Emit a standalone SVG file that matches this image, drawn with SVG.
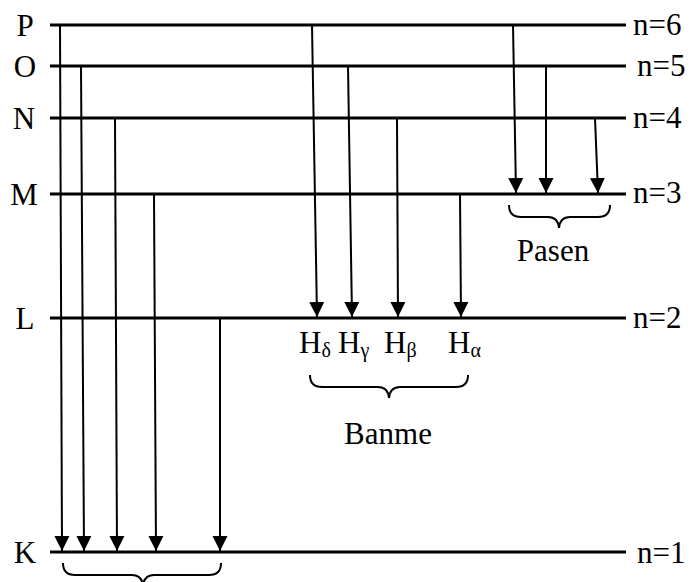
<svg xmlns="http://www.w3.org/2000/svg" width="696" height="582" viewBox="0 0 696 582">
<style>
text{fill:#000}
.lbl{font-size:31px}
.lvl{stroke:#000;stroke-width:3;fill:none}
.tr{stroke:#000;stroke-width:2;fill:none;marker-end:url(#ah)}
.br{stroke:#000;stroke-width:2;fill:none}
.sub{font-size:20px}
</style>
<defs>
<marker id="ah" markerUnits="userSpaceOnUse" markerWidth="16" markerHeight="16" viewBox="0 -8 16 16" refX="15" refY="0" orient="auto">
<path d="M0,-7.5 L15,0 L0,7.5 z" fill="#000"/>
</marker>
</defs>
<g font-family="'Liberation Serif', 'Times New Roman', 'DejaVu Serif', serif">
<g id="levels">
<g id="lvl6"><line class="lvl" x1="50" y1="25" x2="626" y2="25"/><text class="lbl" x="25" y="36" text-anchor="middle">P</text><text class="lbl" x="633" y="35">n=6</text></g>
<g id="lvl5"><line class="lvl" x1="50" y1="66" x2="626" y2="66"/><text class="lbl" x="25" y="77" text-anchor="middle">O</text><text class="lbl" x="637" y="76">n=5</text></g>
<g id="lvl4"><line class="lvl" x1="50" y1="118" x2="626" y2="118"/><text class="lbl" x="24" y="129" text-anchor="middle">N</text><text class="lbl" x="633" y="128">n=4</text></g>
<g id="lvl3"><line class="lvl" x1="50" y1="194" x2="626" y2="194"/><text class="lbl" x="24" y="205" text-anchor="middle">M</text><text class="lbl" x="633" y="203">n=3</text></g>
<g id="lvl2"><line class="lvl" x1="50" y1="318" x2="626" y2="318"/><text class="lbl" x="25" y="329" text-anchor="middle">L</text><text class="lbl" x="633" y="328">n=2</text></g>
<g id="lvl1"><line class="lvl" x1="50" y1="552" x2="626" y2="552"/><text class="lbl" x="25" y="563" text-anchor="middle">K</text><text class="lbl" x="637" y="563">n=1</text></g>
</g>
<g id="connectors">
<line class="tr" x1="60" y1="25" x2="62" y2="551"/>
<line class="tr" x1="81" y1="66" x2="84" y2="551"/>
<line class="tr" x1="115" y1="118" x2="117" y2="551"/>
<line class="tr" x1="154" y1="194" x2="156" y2="551"/>
<line class="tr" x1="220" y1="318" x2="220" y2="551"/>
<line class="tr" x1="312" y1="25" x2="317" y2="317"/>
<line class="tr" x1="348" y1="66" x2="352" y2="317"/>
<line class="tr" x1="397" y1="118" x2="398" y2="317"/>
<line class="tr" x1="460" y1="194" x2="461" y2="317"/>
<line class="tr" x1="513" y1="25" x2="516" y2="193"/>
<line class="tr" x1="546" y1="66" x2="546" y2="193"/>
<line class="tr" x1="595" y1="118" x2="598" y2="193"/>
</g>
<g id="balmer-labels">
<text class="lbl" x="299" y="353">H<tspan class="sub" dy="4">δ</tspan></text>
<text class="lbl" x="338" y="353">H<tspan class="sub" dy="4">γ</tspan></text>
<text class="lbl" x="384" y="353">H<tspan class="sub" dy="4">β</tspan></text>
<text class="lbl" x="448" y="353">H<tspan class="sub" dy="4">α</tspan></text>
</g>
<g id="pasen">
<path class="br" d="M509,205 Q509,217 521,217 L548,217 Q558,217 559,228 Q560,217 570,217 L598,217 Q610,217 610,205"/>
<text class="lbl" x="553" y="261" text-anchor="middle">Pasen</text>
</g>
<g id="banme">
<path class="br" d="M310,375 Q310,387 322,387 L378,387 Q388,387 389,398 Q390,387 400,387 L456,387 Q468,387 468,375"/>
<text class="lbl" x="388" y="444" text-anchor="middle">Banme</text>
</g>
<g id="laiman">
<path class="br" d="M63,563 Q63,575 75,575 L132,575 Q142,575 143,586 Q144,575 154,575 L209,575 Q221,575 221,563"/>
</g>
</g>
</svg>
